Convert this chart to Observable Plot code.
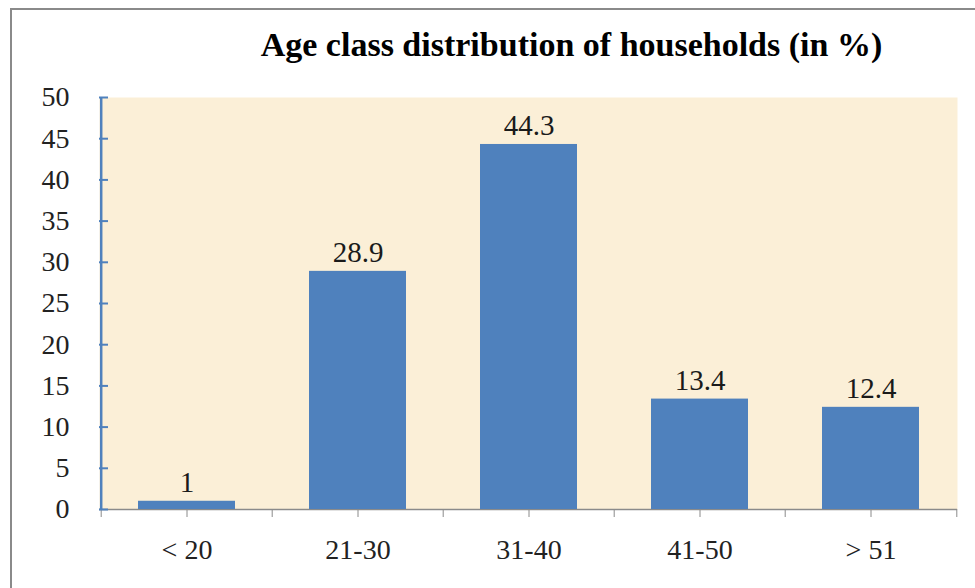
<!DOCTYPE html>
<html>
<head>
<meta charset="utf-8">
<script src="https://cdn.jsdelivr.net/npm/d3@7"></script>
<script src="https://cdn.jsdelivr.net/npm/@observablehq/plot@0.6"></script>
<style>
  html, body { margin: 0; padding: 0; background: #fff; }
  #wrap { position: relative; width: 975px; height: 588px; overflow: hidden; }
  #border { position: absolute; left: 10px; top: 8px; width: 1000px; height: 700px;
            border-left: 2px solid #8a8a8a; border-top: 2px solid #8a8a8a; pointer-events: none; }
  #title { height: 81px; box-sizing: border-box; padding-top: 28px; padding-left: 168px; text-align: center;
           font-family: "Liberation Serif", "Times New Roman", serif; font-weight: bold; font-size: 34px;
           line-height: 34px; color: #000; }
  svg { display: block; }
</style>
</head>
<body>
<div id="wrap">
  <div id="border"></div>
  <div id="title">Age class distribution of households (in %)</div>
  <div id="chart"></div>
</div>
<script>
const categories = ["< 20", "21-30", "31-40", "41-50", "> 51"];
const values = [1, 28.9, 44.3, 13.4, 12.4];
const valueLabels = ["1", "28.9", "44.3", "13.4", "12.4"];
const yTicks = [0, 5, 10, 15, 20, 25, 30, 35, 40, 45, 50];

const data = categories.map((c, i) => ({category: c, value: values[i], label: valueLabels[i]}));

const width = 975, height = 507;
const marginLeft = 99, marginRight = 18, marginTop = 16, marginBottom = 79;
const halfBand = (width - marginLeft - marginRight) / categories.length / 2;
const font = "'Liberation Serif', 'Times New Roman', serif";

const chart = Plot.plot({
  width, height, marginLeft, marginRight, marginTop, marginBottom,
  style: {fontFamily: font, fontSize: "28px", color: "#1a1a1a", background: "transparent"},
  x: {domain: categories, paddingInner: 0.435, paddingOuter: 0.2175, label: null},
  y: {domain: [0, 50], label: null},
  marks: [
    Plot.frame({fill: "#FBEFD7", stroke: null}),
    // x-axis line
    Plot.ruleY([0], {stroke: "#8a8a8a", strokeWidth: 1.5}),
    // category boundary ticks
    Plot.ruleX(categories, {x: d => d, dx: -halfBand, y1: 0, y2: 0, insetBottom: -8, stroke: "#8a8a8a"}),
    Plot.ruleX(categories.slice(-1), {x: d => d, dx: halfBand, y1: 0, y2: 0, insetBottom: -8, stroke: "#8a8a8a"}),
    Plot.axisX({tickSize: 8, stroke: "#8a8a8a", tickPadding: 22, fontSize: 28, fill: "#222"}),
    // y-axis line
    Plot.ruleX([categories[0]], {dx: -halfBand, stroke: "#4F81BD", strokeWidth: 2.5}),
    Plot.axisY({ticks: yTicks, tickSize: -9, text: null, stroke: "#4F81BD", strokeWidth: 2}),
    Plot.axisY({ticks: yTicks, tickSize: 0, tickPadding: 30, fontSize: 28, fill: "#222"}),
    Plot.barY(data, {x: "category", y: "value", fill: "#4F81BD"}),
    Plot.text(data, {x: "category", y: "value", text: "label", lineAnchor: "bottom", dy: -9,
                     fontSize: 29, letterSpacing: 1, fill: "#1a1a1a"})
  ]
});
document.getElementById("chart").appendChild(chart);
</script>
</body>
</html>
